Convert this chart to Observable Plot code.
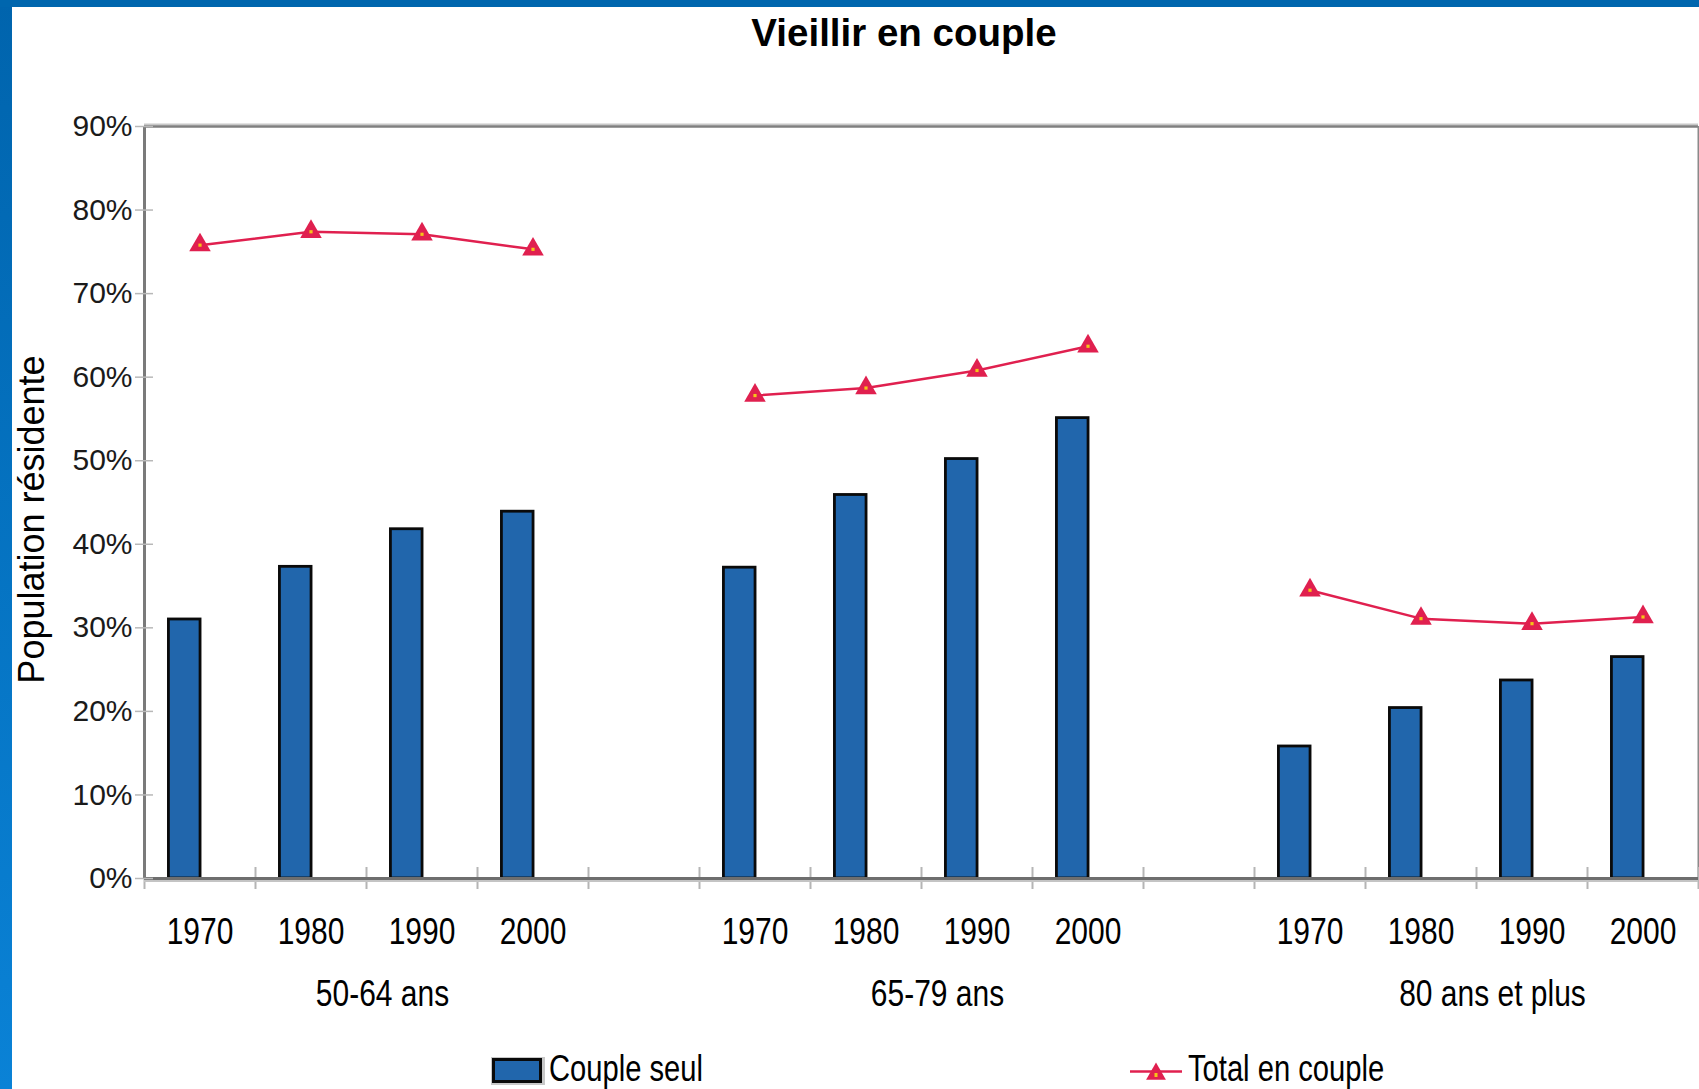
<!DOCTYPE html>
<html>
<head>
<meta charset="utf-8">
<script src="https://cdn.jsdelivr.net/npm/d3@7"></script>
<script src="https://cdn.jsdelivr.net/npm/@observablehq/plot@0.6"></script>
<style>
  html, body { margin: 0; padding: 0; background: #fff; }
  body { width: 1699px; height: 1089px; overflow: hidden; position: relative; }
  #lstrip { position: absolute; left: 0; top: 0; width: 12px; height: 1089px; background: linear-gradient(#0064ad, #0a82d6); z-index: 5; }
  #tstrip { position: absolute; left: 0; top: 0; width: 1699px; height: 7px; background: #0066ae; z-index: 5; }
  #title { position: relative; height: 62px; }
  #title span { position: absolute; left: 904px; top: 14px; transform: translateX(-50%); font: bold 38.5px "Liberation Sans", Arial, sans-serif; line-height: 1; white-space: nowrap; color: #000; }
  #chart svg { display: block; }
  #legend { display: block; }
</style>
</head>
<body>
<div id="lstrip"></div>
<div id="tstrip"></div>
<div id="title"><span>Vieillir en couple</span></div>
<div id="chart"></div>
<svg id="legend" width="1699" height="59"></svg>
<script>
// ---- data ----
const groups = ["50-64 ans", "65-79 ans", "80 ans et plus"];
const years = ["1970", "1980", "1990", "2000"];
const coupleSeul = [
  [31.0, 37.3, 41.8, 43.9],
  [37.2, 45.9, 50.2, 55.1],
  [15.8, 20.4, 23.7, 26.5]
];
const totalCouple = [
  [75.8, 77.4, 77.1, 75.3],
  [57.8, 58.7, 60.8, 63.7],
  [34.5, 31.1, 30.5, 31.3]
];
const yTicks = [0, 10, 20, 30, 40, 50, 60, 70, 80, 90];
const seriesNames = ["Couple seul", "Total en couple"];
const yLabel = "Population résidente";

// ---- layout helpers ----
const narrow = "'Liberation Sans Narrow', 'Arial Narrow', 'Liberation Sans', sans-serif";
const regular = "'Liberation Sans', Arial, sans-serif";
const squeeze = 0.81;
const barColor = "#2166ac";
const lineColor = "#e0204f";
const nPer = years.length;
const gap = 1;
const slotOf = (gi, yi) => gi * (nPer + gap) + yi;
const nSlots = groups.length * (nPer + gap) - gap;
const rows = groups.flatMap((g, gi) => years.map((yr, yi) => ({
  group: g, year: yr, slot: slotOf(gi, yi),
  seul: coupleSeul[gi][yi], total: totalCouple[gi][yi]
})));
const boundaries = d3.range(0, nSlots + 1);
const groupRows = groups.map((g, gi) => ({group: g, mid: slotOf(gi, 0) + nPer / 2}));
const cx = d => d.slot + 0.5;

const chart = Plot.plot({
  width: 1699,
  height: 968,
  marginLeft: 144,
  marginRight: 1,
  marginTop: 64,
  marginBottom: 152,
  x: {domain: [0, nSlots], axis: null},
  y: {domain: [0, 90], axis: null},
  style: {fontFamily: regular, color: "#000", background: "transparent", overflow: "visible"},
  marks: [
    Plot.ruleY([90], {stroke: "#c8c8c8", strokeWidth: 2, dy: -2}),
    Plot.ruleY([90], {stroke: "#7f7f7f", strokeWidth: 2.5}),
    Plot.ruleX([nSlots], {stroke: "#8a8a8a", strokeWidth: 2}),
    Plot.axisX(boundaries, {tickSize: 22, dy: -11, stroke: "#b5b5b5", strokeWidth: 2, tickFormat: () => "", label: null}),
    Plot.rectY(rows, {x1: d => d.slot + 0.22, x2: d => d.slot + 0.505, y: "seul", fill: barColor, stroke: "#0a0a0a", strokeWidth: 2.8}),
    Plot.ruleY([0], {stroke: "#c4c4c4", strokeWidth: 2, dy: 2.5}),
    Plot.ruleY([0], {stroke: "#6e6e6e", strokeWidth: 3}),
    Plot.ruleX([0], {stroke: "#7a7a7a", strokeWidth: 3}),
    Plot.axisY(yTicks, {tickSize: 18, dx: 9, tickPadding: 3, stroke: "#b8b8b8", strokeWidth: 1.5, fill: "#1a1a1a", fontSize: 30, fontFamily: regular, tickFormat: d => d + "%", label: null}),
    Plot.line(rows, {x: cx, y: "total", z: "group", stroke: lineColor, strokeWidth: 2.5}),
    Plot.dot(rows, {x: cx, y: "total", symbol: "triangle", r: 8, fill: lineColor, stroke: "none"}),
    Plot.dot(rows, {x: cx, y: "total", symbol: "square", r: 1.8, fill: "#f5c518", stroke: "none"}),
    Plot.text(rows, {x: cx, text: "year", frameAnchor: "bottom", lineAnchor: "middle", dy: 54, fontSize: 37, fontFamily: narrow, fill: "#000"}),
    Plot.text(groupRows, {x: "mid", text: "group", frameAnchor: "bottom", lineAnchor: "middle", dy: 116, dx: 16, fontSize: 37, fontFamily: narrow, fill: "#000"}),
    Plot.text([yLabel], {text: d => d, frameAnchor: "left", textAnchor: "middle", lineAnchor: "middle", rotate: -90, dx: -112, dy: 17, fontSize: 36, fontFamily: regular, fill: "#000"})
  ]
});
document.getElementById("chart").appendChild(chart);

// ---- legend ----
const leg = d3.select("#legend");
leg.append("rect").attr("x", 491).attr("y", 27).attr("width", 54).attr("height", 28).attr("fill", "#c8c8c8");
leg.append("rect").attr("x", 493.5).attr("y", 29.5).attr("width", 47).attr("height", 22)
  .attr("fill", barColor).attr("stroke", "#0a0a0a").attr("stroke-width", 3);
leg.append("text").attr("class", "narrow").attr("x", 549).attr("y", 51).text(seriesNames[0])
  .attr("font-family", narrow).attr("font-size", 36).attr("fill", "#000");
leg.append("line").attr("x1", 1130).attr("x2", 1182).attr("y1", 41.5).attr("y2", 41.5)
  .attr("stroke", lineColor).attr("stroke-width", 2.5);
leg.append("path").attr("transform", "translate(1156,44)")
  .attr("d", d3.symbol(d3.symbolTriangle, 170)()).attr("fill", lineColor);
leg.append("rect").attr("x", 1154.5).attr("y", 43).attr("width", 3).attr("height", 4).attr("fill", "#f5c518");
leg.append("text").attr("class", "narrow").attr("x", 1188).attr("y", 51).text(seriesNames[1])
  .attr("font-family", narrow).attr("font-size", 36).attr("fill", "#000");

// ---- condense the narrow-font texts (no narrow face installed) ----
document.querySelectorAll('#chart g[font-family*="Narrow"] text, #legend text.narrow').forEach(t => {
  const w = t.getComputedTextLength();
  t.setAttribute("textLength", (w * squeeze).toFixed(1));
  t.setAttribute("lengthAdjust", "spacingAndGlyphs");
});
</script>
</body>
</html>
